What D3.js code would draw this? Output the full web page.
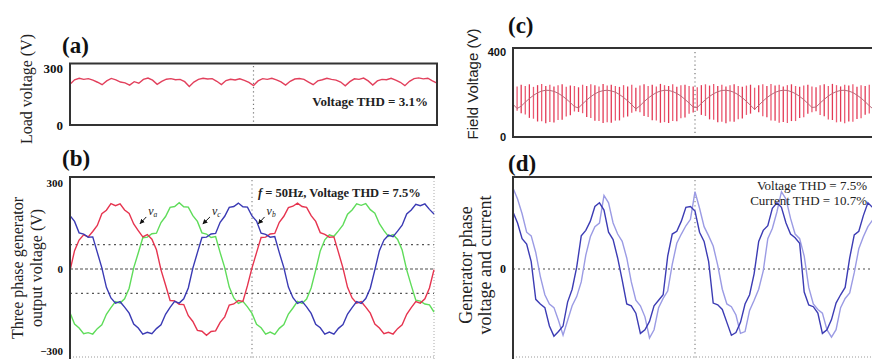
<!DOCTYPE html>
<html><head><meta charset="utf-8">
<script src="https://cdn.jsdelivr.net/npm/d3@7"></script>
<style>body{margin:0;background:#fff}svg{display:block}</style>
</head><body><svg id="c" width="872" height="359"></svg>
<script>
// ---------- DATA ----------
// (a) load voltage, sampled every 0.5 ms over 40 ms
const loadVoltage = [215,238,246,240,244,236,225,212,232,245,238,226,222,210,228,220,240,247,236,214,230,241,244,238,240,228,203,226,240,246,242,244,230,213,234,241,237,243,235,224,208,232,244,240,246,238,227,210,230,242,245,240,226,212,232,238,246,240,236,226,206,228,243,240,247,232,210,232,240,238,246,236,225,207,230,244,248,243,246,232,220];
const aTicks = [0, 300];
const aNote = "Voltage THD = 3.1%";

// (b) three phase generator output voltage, every 0.5 ms
const phaseA = [-6,64,101,119,112,131,152,193,205,228,221,227,206,194,157,134,112,120,104,67,-3,-56,-110,-111,-123,-124,-163,-183,-214,-217,-231,-218,-216,-186,-167,-126,-122,-110,-113,-58,4,57,110,111,122,124,163,184,214,219,230,218,215,186,166,127,121,111,112,58,3,-64,-101,-119,-114,-133,-154,-192,-206,-226,-221,-227,-208,-195,-158,-135,-114,-119,-104,-66,-2];
const phaseC = [-153,-192,-206,-226,-222,-227,-208,-195,-158,-135,-114,-119,-104,-67,4,56,109,111,123,125,162,183,215,218,231,217,216,186,166,126,122,110,113,57,5,-63,-101,-120,-113,-132,-155,-193,-205,-227,-220,-228,-207,-194,-157,-136,-113,-120,-105,-66,-4,63,102,119,114,133,154,191,206,227,222,228,207,195,158,134,114,120,103,66,-3,-57,-109,-112,-122,-125,-150];
const phaseB = [186,166,126,122,111,112,58,4,-64,-101,-119,-114,-133,-154,-192,-206,-227,-221,-226,-208,-195,-158,-134,-113,-119,-104,-66,3,57,110,111,122,124,163,184,215,218,230,217,216,185,167,125,121,111,113,57,5,-63,-100,-120,-113,-132,-155,-193,-205,-227,-220,-227,-207,-194,-157,-135,-114,-120,-103,-67,-3,64,101,118,113,132,153,192,206,226,221,227,208,192];
const bTicks = [-300, 0, 300];
const bGrid = [-85, 85];
const phaseLabels = [
  {name:"a", t:8.6, v:192, tipT:7.7, tipV:158},
  {name:"c", t:15.6, v:192, tipT:14.6, tipV:157},
  {name:"b", t:21.6, v:192, tipT:20.7, tipV:158}
];

// (c) field voltage: PWM bars (every 0.45 ms) with top / bottom and envelope line
const fieldTop = [244,238,246,240,248,236,244,250,240,246,238,244,248,236,242,240,234,246,240,248,244,238,250,242,246,240,236,244,238,246,232,242,248,240,246,238,250,244,240,248,236,244,246,240,238,234,244,248,242,250,240,246,238,244,248,240,236,242,246,232,244,248,240,250,242,246,238,244,248,240,236,242,246,238,234,244,248,240,250,244,238,246,242,248,236,244,240,246,234];
const fieldBottom = [108,124,112,106,90,86,73,74,65,71,68,80,81,97,102,120,118,112,94,90,76,75,66,70,67,77,78,92,97,114,121,117,99,94,79,78,67,70,66,75,74,88,92,109,115,123,104,99,83,81,69,72,65,73,72,84,87,104,110,127,116,98,93,78,77,67,71,66,75,75,89,93,110,117,121,103,98,82,80,69,72,65,73,72,85,88,105,111,126];
const fieldLine = [154,134,145,164,181,196,208,216,220,219,215,206,194,179,162,143,137,156,174,190,203,213,218,220,217,211,200,186,170,152,132,147,166,183,197,209,216,220,219,214,205,193,177,160,141,139,158,176,191,204,213,219,220,217,210,199,185,168,149,130,149,168,185,199,210,217,220,219,213,204,191,176,158,139,141,160,177,193,205,214,219,220,216,209,197,183,166,147,131];
const fieldStep = 0.45;
const cTicks = [0, 400];

// (d) generator phase voltage and current (relative units), every 0.5 units
const genVoltage = [62,50,33,27,8,-33,-38,-42,-62,-73,-68,-62,-36,-22,2,36,42,52,68,72,64,40,32,12,-12,-38,-40,-48,-70,-66,-57,-40,-34,-28,14,38,41,52,67,68,63,40,30,8,-37,-39,-44,-58,-72,-69,-58,-38,-28,-5,30,42,47,66,72,67,50,38,34,28,-25,-39,-41,-48,-70,-66,-55,-37,-28,-20,12,37,41,58,72,67,60];
const genCurrent = [88,76,60,40,36,18,-8,-28,-38,-42,-56,-72,-56,-40,-30,-14,15,35,46,50,80,72,50,38,30,12,-14,-34,-40,-52,-75,-66,-42,-32,-24,5,28,38,47,54,84,66,46,36,25,4,-22,-38,-41,-50,-70,-68,-45,-34,-22,-2,33,44,62,84,76,55,38,33,14,-20,-38,-44,-48,-66,-74,-66,-42,-32,-26,-4,22,35,46,53,56];
const dTicks = [0];
const dNotes = ["Voltage THD = 7.5%", "Current THD = 10.7%"];

// ---------- DRAW ----------
const svg = d3.select("#c");
svg.append("rect").attr("width",872).attr("height",359).attr("fill","#fff");
const serif = "'Liberation Serif','Times New Roman',serif";
const sans = "'Liberation Sans',Arial,sans-serif";
const step = 0.5;

svg.append("defs").append("marker").attr("id","arr").attr("viewBox","0 0 10 10")
  .attr("refX",9).attr("refY",5).attr("markerWidth",5).attr("markerHeight",5).attr("orient","auto")
  .append("path").attr("d","M0,0L10,5L0,10z").attr("fill","#111");

function hline(x1,x2,y,stroke,w,dash){
  svg.append("line").attr("x1",x1).attr("x2",x2).attr("y1",y).attr("y2",y)
    .attr("stroke",stroke).attr("stroke-width",w).attr("stroke-dasharray",dash||null);
}
function vline(x,y1,y2,stroke,w,dash){
  svg.append("line").attr("x1",x).attr("x2",x).attr("y1",y1).attr("y2",y2)
    .attr("stroke",stroke).attr("stroke-width",w).attr("stroke-dasharray",dash||null);
}
function yAxis(x, scale, ticks, font, size, weight){
  const g = svg.append("g").attr("transform",`translate(${x},0)`)
    .call(d3.axisLeft(scale).tickValues(ticks).tickSize(0).tickPadding(7).tickFormat(d3.format("d")));
  g.select(".domain").remove();
  g.selectAll("text").attr("font-family",font).attr("font-size",size).attr("font-weight",weight).attr("fill","#111");
  return g;
}
function label(txt,x,y){
  svg.append("text").attr("x",x).attr("y",y).text(txt)
    .attr("font-family",serif).attr("font-size",23).attr("font-weight","bold").attr("fill","#111");
}
function rotLabel(lines,xs,yc,font,size,weight){
  lines.forEach((t,i)=>{
    svg.append("text").attr("transform",`translate(${xs[i]},${yc}) rotate(-90)`)
      .attr("text-anchor","middle").attr("font-family",font).attr("font-size",size)
      .attr("font-weight",weight).attr("fill","#222").text(t);
  });
}

// ===== (a) =====
const xA = d3.scaleLinear([0,40],[70,437]);
const yA = d3.scaleLinear([0,300],[125,68]);
vline(xA(20),66,123,"#777",1.2,"1.2,3");
svg.append("path").datum(loadVoltage)
  .attr("d", d3.line().x((d,i)=>xA(i*step)).y(d=>yA(d)))
  .attr("fill","none").attr("stroke","#e2405c").attr("stroke-width",1.4);
svg.append("rect").attr("x",70).attr("y",63.5).attr("width",367).attr("height",61.5)
  .attr("fill","none").attr("stroke","#333").attr("stroke-width",2);
yAxis(70,yA,aTicks,serif,13,"bold");
svg.append("text").attr("x",428).attr("y",106).attr("text-anchor","end").text(aNote)
  .attr("font-family",serif).attr("font-size",13).attr("font-weight","bold").attr("fill","#222");
label("(a)",62,53);
rotLabel(["Load voltage (V)"],[32],89,serif,16,"normal");

// ===== (b) =====
const xB = d3.scaleLinear([0,40],[70,434]);
const yB = d3.scaleLinear([-300,300],[355,183]);
bGrid.forEach(v=>hline(70,434,yB(v),"#555",1.2,"2,3.5"));
hline(70,434,yB(0),"#888",1.5,"3,2");
vline(xB(20),180,359,"#888",1.2,"1.2,3");
vline(434,178,359,"#aaa",1,"1,2");
hline(70,434,357,"#999",1,"1,2");
const lineB = d3.line().x((d,i)=>xB(i*step)).y(d=>yB(d));
[[phaseC,"#5fdc5a"],[phaseA,"#e6344f"],[phaseB,"#3a3ab4"]].forEach(([s,c])=>{
  svg.append("path").datum(s).attr("d",lineB).attr("fill","none").attr("stroke",c).attr("stroke-width",1.4);
});
hline(69,435,177,"#333",2);
vline(70,176,359,"#333",2);
const gB = yAxis(70,yB,bTicks,serif,11,"bold");
gB.selectAll(".tick").filter(d=>d===-300).select("text").attr("dy","-0.05em");
phaseLabels.forEach(p=>{
  svg.append("line").attr("x1",xB(p.t)-2).attr("y1",yB(p.v)+3).attr("x2",xB(p.tipT)).attr("y2",yB(p.tipV))
    .attr("stroke","#111").attr("stroke-width",1).attr("marker-end","url(#arr)");
  const t = svg.append("text").attr("x",xB(p.t)).attr("y",yB(p.v)+1)
    .attr("font-family",serif).attr("font-size",12).attr("font-style","italic").attr("fill","#222");
  t.append("tspan").text("v");
  t.append("tspan").attr("font-size",7.5).attr("dy",2).text(p.name);
});
const tb = svg.append("text").attr("x",258).attr("y",197)
  .attr("font-family",serif).attr("font-size",12.5).attr("font-weight","bold").attr("fill","#222");
tb.append("tspan").attr("font-style","italic").text("f");
tb.append("tspan").text(" = 50Hz, Voltage THD = 7.5%");
label("(b)",62,166);
rotLabel(["Three phase generator","output voltage (V)"],[23,42],268,serif,16,"normal");

// ===== (c) =====
const xC = d3.scaleLinear([0,40],[513,877]);
const yC = d3.scaleLinear([0,400],[137,52]);
vline(xC(20),52,134,"#777",1.2,"1.2,3");
svg.append("g").selectAll("line").data(fieldTop).join("line")
  .attr("x1",(d,i)=>xC(i*fieldStep)).attr("x2",(d,i)=>xC(i*fieldStep))
  .attr("y1",d=>yC(d)).attr("y2",(d,i)=>yC(fieldBottom[i]))
  .attr("stroke",(d,i)=>i%2?"#ec5a72":"#e23a55").attr("stroke-width",1.3);
svg.append("path").datum(fieldLine)
  .attr("d",d3.line().x((d,i)=>xC(i*fieldStep)).y(d=>yC(d)))
  .attr("fill","none").attr("stroke","#b86a7a").attr("stroke-width",1);
hline(512,872,48,"#333",2);
hline(512,872,137,"#333",2);
vline(513,47,138,"#333",2);
yAxis(513,yC,cTicks,sans,11,"bold");
label("(c)",508,33);
rotLabel(["Field Voltage (V)"],[478],84,sans,15,"normal");

// ===== (d) =====
const xD = d3.scaleLinear([0,40],[513,877]);
const yD = d3.scaleLinear([-100,100],[361,177]);
hline(513,872,yD(0),"#888",1.3,"2,3");
vline(xD(20),180,359,"#888",1.2,"1.2,3");
hline(513,872,357,"#999",1,"1,2");
const lineD = d3.line().x((d,i)=>xD(i*step)).y(d=>yD(d));
svg.append("path").datum(genCurrent).attr("d",lineD).attr("fill","none").attr("stroke","#9b9be4").attr("stroke-width",1.4);
svg.append("path").datum(genVoltage).attr("d",lineD).attr("fill","none").attr("stroke","#3c3cb4").attr("stroke-width",1.4);
hline(512,872,177,"#333",2);
vline(513,176,359,"#333",2);
yAxis(513,yD,dTicks,serif,12,"bold");
dNotes.forEach((t,i)=>{
  svg.append("text").attr("x",867).attr("y",190+i*15).attr("text-anchor","end").text(t)
    .attr("font-family",serif).attr("font-size",13).attr("fill","#222");
});
label("(d)",508,171);
rotLabel(["Generator phase","voltage and current"],[472,491],265,serif,18,"normal");
</script></body></html>
